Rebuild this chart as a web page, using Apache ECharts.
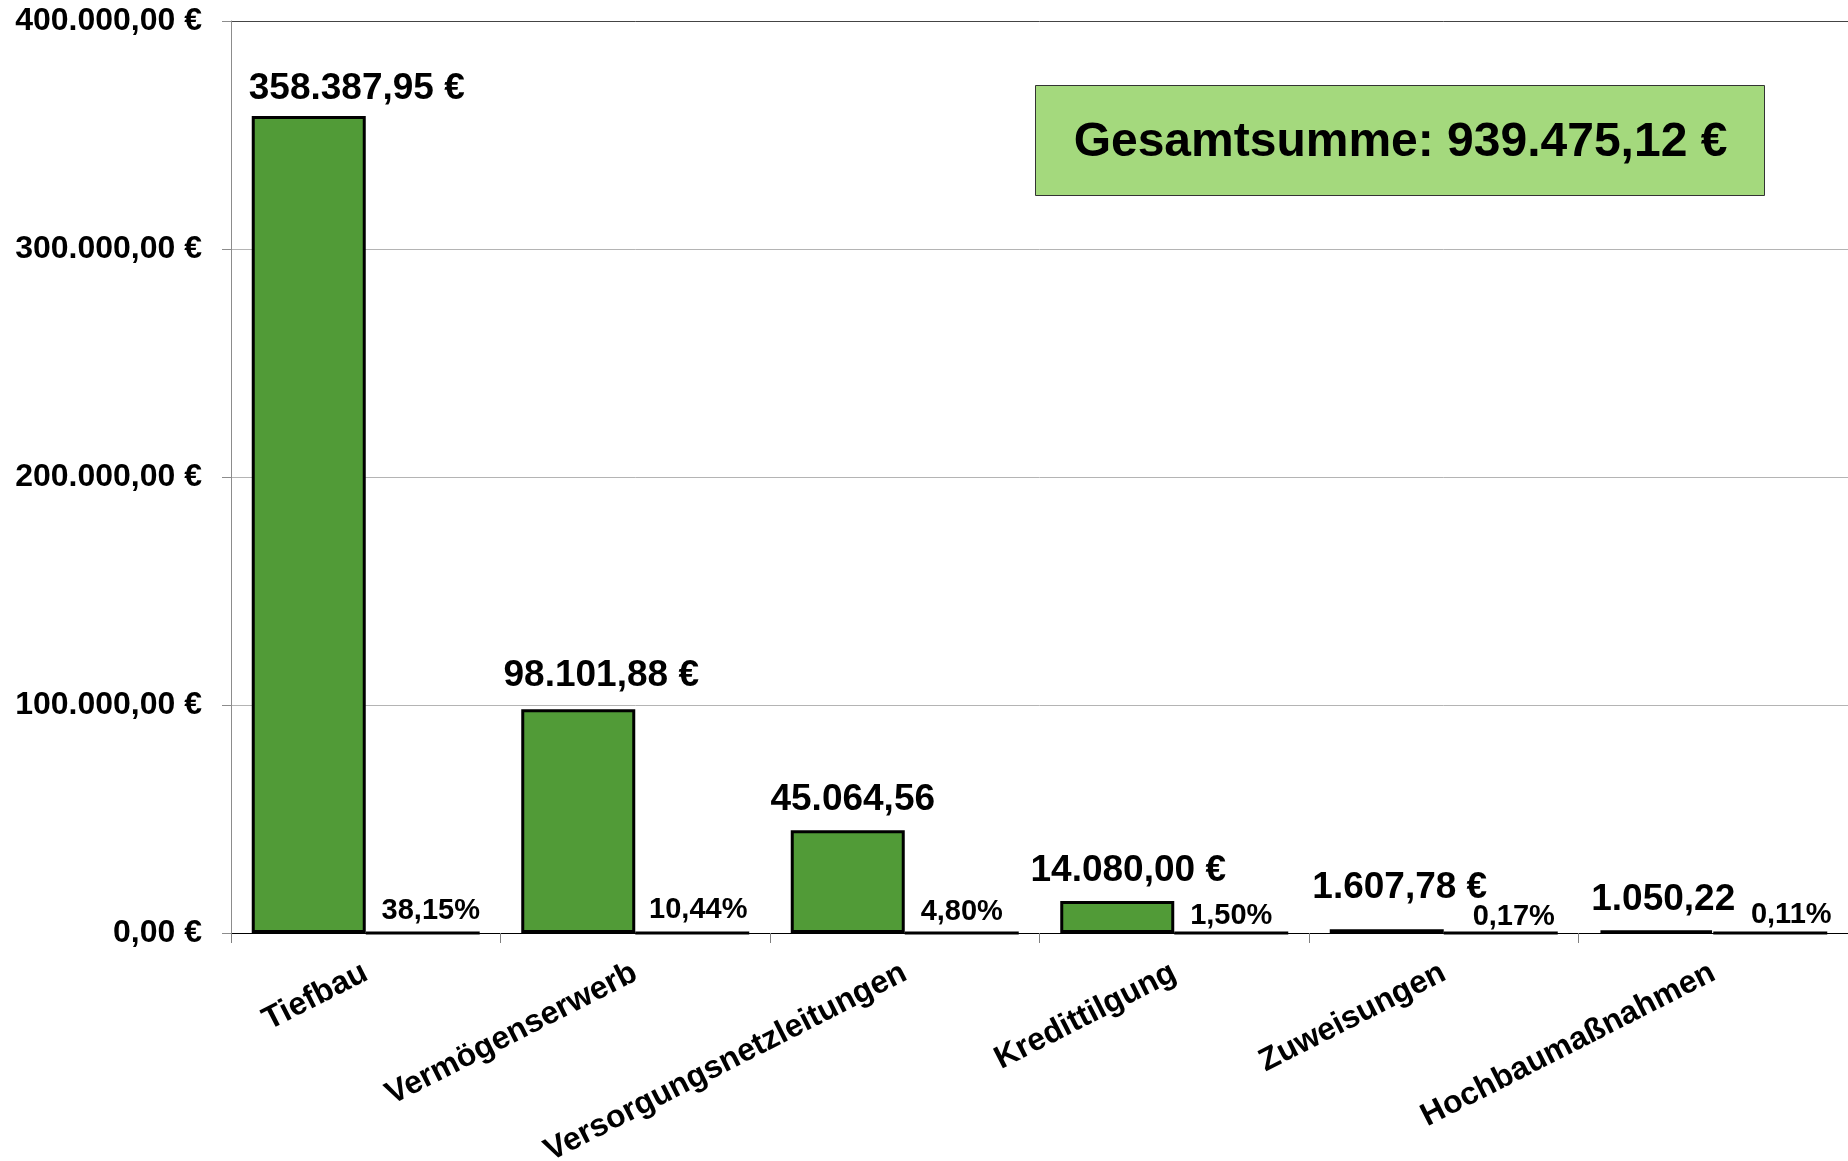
<!DOCTYPE html>
<html>
<head>
<meta charset="utf-8">
<script src="https://cdn.jsdelivr.net/npm/echarts@6/dist/echarts.min.js"></script>
<style>
  html, body { margin: 0; padding: 0; background: #fff; }
  #main { width: 1848px; height: 1161px; }
</style>
</head>
<body>
<div id="main"></div>
<script>
// data
const categories = ['Tiefbau', 'Vermögenserwerb', 'Versorgungsnetzleitungen', 'Kredittilgung', 'Zuweisungen', 'Hochbaumaßnahmen'];
const amounts = [358387.95, 98101.88, 45064.56, 14080.00, 1607.78, 1050.22];
const amountLabels = ['358.387,95 €', '98.101,88 €', '45.064,56', '14.080,00 €', '1.607,78 €', '1.050,22'];
const shares = [38.15, 10.44, 4.80, 1.50, 0.17, 0.11];
const totalText = 'Gesamtsumme: 939.475,12 €';

// small manual shifts of the labels, like in the original sheet
const amountShift = [[48, 3], [23, -3], [5, 0], [11, 0], [13, -11], [7, 0]];
const shareShift = [[8, 0], [6, -1], [0, 1], [0, 5], [13, 6], [21, 4]];

const FONT = '"Liberation Sans", Arial, sans-serif';

function euro(v) {
  var parts = v.toFixed(2).split('.');
  var int = parts[0].replace(/\B(?=(\d{3})+(?!\d))/g, '.');
  return int + ',' + parts[1] + ' €';
}

var chart = echarts.init(document.getElementById('main'));

var option = {
  backgroundColor: '#ffffff',
  animation: false,
  grid: {
    left: 231,
    right: 0,
    top: 21,
    bottom: 228,
    containLabel: false,
    outerBoundsMode: 'none'
  },
  xAxis: {
    type: 'category',
    data: categories,
    axisLine: { lineStyle: { color: '#000', width: 1 } },
    axisTick: { show: true, length: 10, lineStyle: { color: '#808080' } },
    axisLabel: {
      rotate: 27,
      margin: 38,
      color: '#000',
      fontFamily: FONT,
      fontWeight: 'bold',
      fontSize: 32,
      interval: 0
    }
  },
  yAxis: {
    type: 'value',
    min: 0,
    max: 400000,
    interval: 100000,
    axisLine: { show: true, lineStyle: { color: '#8c8c8c' } },
    axisTick: { show: true, length: 9, lineStyle: { color: '#8c8c8c' } },
    axisLabel: {
      margin: 29,
      color: '#000',
      fontFamily: FONT,
      fontWeight: 'bold',
      fontSize: 32,
      formatter: euro
    },
    splitLine: {
      lineStyle: { color: ['#b4b4b4', '#b4b4b4', '#b4b4b4', '#b4b4b4', '#444444'], width: 1 }
    }
  },
  series: [
    {
      name: 'Betrag',
      type: 'bar',
      barWidth: 114,
      barGap: '0%',
      data: amounts.map(function (v, i) {
        return { value: v, label: { offset: amountShift[i] } };
      }),
      itemStyle: { color: '#519b37', borderColor: '#000', borderWidth: 3 },
      label: {
        show: true,
        position: 'top',
        distance: 12,
        color: '#000',
        fontFamily: FONT,
        fontWeight: 'bold',
        fontSize: 37,
        formatter: function (p) { return amountLabels[p.dataIndex]; }
      }
    },
    {
      name: 'Anteil',
      type: 'bar',
      barWidth: 114,
      data: shares.map(function (v, i) {
        return { value: v, label: { offset: shareShift[i] } };
      }),
      itemStyle: { color: '#ffffff', borderColor: '#000', borderWidth: 3 },
      label: {
        show: true,
        position: 'top',
        distance: 6,
        color: '#000',
        fontFamily: FONT,
        fontWeight: 'bold',
        fontSize: 29,
        formatter: function (p) { return p.value.toFixed(2).replace('.', ',') + '%'; }
      }
    }
  ],
  graphic: [
    {
      type: 'group',
      left: 1035,
      top: 85,
      children: [
        {
          type: 'rect',
          shape: { x: 0, y: 0, width: 729, height: 110 },
          style: { fill: '#a4d97d', stroke: '#333', lineWidth: 1 }
        },
        {
          type: 'text',
          x: 365,
          y: 57,
          style: {
            text: totalText,
            fill: '#000',
            font: 'bold 48px ' + FONT,
            textAlign: 'center',
            textVerticalAlign: 'middle'
          }
        }
      ]
    }
  ]
};

chart.setOption(option);
</script>
</body>
</html>
